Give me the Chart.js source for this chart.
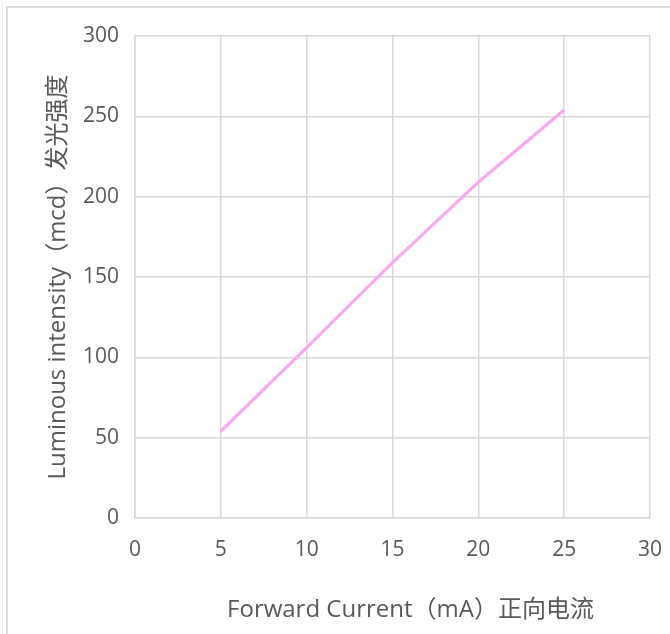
<!DOCTYPE html>
<html>
<head>
<meta charset="utf-8">
<script src="https://cdn.jsdelivr.net/npm/chart.js@4/dist/chart.umd.min.js"></script>
<style>
  html, body { margin: 0; padding: 0; background: #ffffff; }
  #wrap { position: relative; width: 670px; height: 634px; overflow: hidden; }
  #frame { position: absolute; left: 6px; top: 6px; width: 700px; height: 700px; border-left: 2px solid #dcdcdc; border-top: 2px solid #dcdcdc; box-sizing: border-box; }
  #edge { position: absolute; left: 2px; top: 0; width: 1px; height: 634px; background: #ececec; }
  canvas { position: absolute; left: 0; top: 0; }
</style>
</head>
<body>
<div id="wrap">
  <div id="edge"></div>
  <div id="frame"></div>
  <canvas id="c" width="670" height="634"></canvas>
</div>
<script>
const currents = [5, 10, 15, 20, 25];
const intensity = [54, 106, 159, 209, 254];
const xTicks = [0, 5, 10, 15, 20, 25, 30];
const yTicks = [0, 50, 100, 150, 200, 250, 300];
const xTitle = 'Forward Current（mA）正向电流';
const yTitle = 'Luminous intensity（mcd）发光强度';

const FONT = '"Open Sans", "Noto Sans CJK SC", sans-serif';
const TXT = '#595959';
const GRID = '#d9d9d9';

const points = currents.map((x, i) => ({ x: x, y: intensity[i] }));

new Chart(document.getElementById('c'), {
  type: 'scatter',
  data: {
    datasets: [{
      data: points,
      showLine: true,
      borderColor: '#f7aaf0',
      backgroundColor: '#f7aaf0',
      borderWidth: 3.2,
      pointRadius: 0,
      pointHoverRadius: 0,
      tension: 0
    }]
  },
  options: {
    responsive: false,
    animation: false,
    events: [],
    layout: { autoPadding: false, padding: { left: 0, top: 36, right: 20, bottom: 0 } },
    plugins: { legend: { display: false }, tooltip: { enabled: false } },
    scales: {
      x: {
        type: 'linear',
        min: xTicks[0],
        max: xTicks[xTicks.length - 1],
        afterBuildTicks: s => { s.ticks = xTicks.map(v => ({ value: v })); },
        afterFit: s => { s.height = 116; s.paddingRight = 0; s.paddingLeft = 0; },
        grid: { color: GRID, lineWidth: 1.5, drawTicks: false },
        border: { color: GRID, width: 1.5 },
        ticks: { color: TXT, font: { family: FONT, size: 21 }, padding: 19, maxRotation: 0 },
        title: { display: true, text: '\u2003\u2002' + xTitle, color: TXT, font: { family: FONT, size: 24 }, padding: { top: 0, bottom: 9 } }
      },
      y: {
        type: 'linear',
        min: yTicks[0],
        max: yTicks[yTicks.length - 1],
        afterBuildTicks: s => { s.ticks = yTicks.map(v => ({ value: v })); },
        afterFit: s => { s.width = 135; s.paddingTop = 0; s.paddingBottom = 0; },
        grid: { color: GRID, lineWidth: 1.5, drawTicks: false },
        border: { color: GRID, width: 1.5 },
        ticks: { color: TXT, font: { family: FONT, size: 21 }, padding: 16 },
        title: { display: true, text: yTitle, color: TXT, font: { family: FONT, size: 24 }, padding: { top: 44, bottom: 0 } }
      }
    }
  }
});
</script>
</body>
</html>
